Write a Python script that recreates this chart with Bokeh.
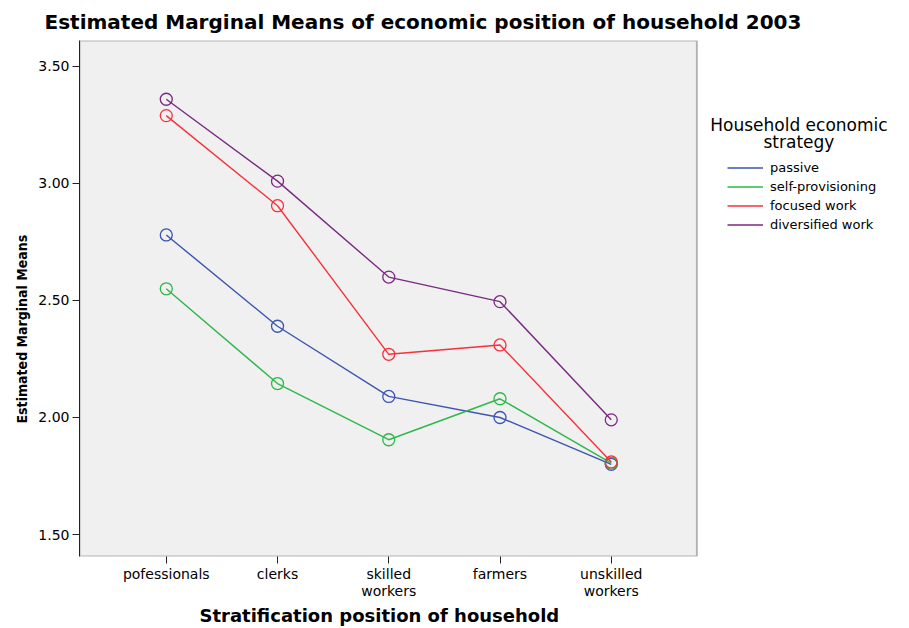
from bokeh.plotting import figure
from bokeh.models import Legend, LegendItem, FixedTicker, Range1d, Title, Label, BoxAnnotation
from bokeh.embed import file_html
from bokeh.resources import INLINE

# ---- data ----
categories = ["pofessionals", "clerks", "skilled\nworkers", "farmers", "unskilled\nworkers"]
x_pos = [1, 2, 3, 4, 5]
passive = [2.78, 2.39, 2.09, 2.00, 1.80]
self_provisioning = [2.55, 2.145, 1.905, 2.08, 1.805]
focused_work = [3.29, 2.905, 2.27, 2.31, 1.81]
diversified_work = [3.36, 3.01, 2.60, 2.495, 1.99]
series_names = ["passive", "self-provisioning", "focused work", "diversified work"]
series_values = [passive, self_provisioning, focused_work, diversified_work]
colors = ["#3b55b3", "#2db84a", "#f8303a", "#7a2a82"]
y_ticks = [1.5, 2.0, 2.5, 3.0, 3.5]
y_tick_labels = ["1.50", "2.00", "2.50", "3.00", "3.50"]
legend_title_lines = ["Household economic", "strategy"]

FONT = "DejaVu Sans"
NARROW = "DejaVu Sans Condensed"

# plotting area (grey box) and the extra room on its right for the legend
x_start, x_box_end, x_end = 0.22, 5.77, 7.609
y_start, y_end = 1.406, 3.611

p = figure(width=905, height=626, output_backend="svg", toolbar_location=None,
           x_range=Range1d(x_start, x_end), y_range=Range1d(y_start, y_end),
           min_border_left=79, min_border_right=4, min_border_top=40, min_border_bottom=70,
           background_fill_color="white", border_fill_color="white")
p.outline_line_color = None
p.xgrid.visible = False
p.ygrid.visible = False

p.add_layout(BoxAnnotation(left=x_start, right=x_box_end, bottom=y_start, top=y_end,
                           fill_color="#f0f0f0", fill_alpha=1.0,
                           line_color="#222222", line_width=2, level="underlay"))

p.title.text = "Estimated Marginal Means of economic position of household 2003"
p.title.text_font = FONT
p.title.text_font_size = "20px"
p.title.text_font_style = "bold"
p.title.align = "left"
p.title.offset = -35
p.title.standoff = 13
p.title.text_color = "black"

# axes
p.xaxis.ticker = FixedTicker(ticks=x_pos)
p.xaxis.major_label_overrides = {x: c for x, c in zip(x_pos, categories)}
p.yaxis.ticker = FixedTicker(ticks=y_ticks)
p.yaxis.major_label_overrides = {t: l for t, l in zip(y_ticks, y_tick_labels)}
for ax in (p.xaxis[0], p.yaxis[0]):
    ax.axis_line_color = "#222222"
    ax.major_tick_line_color = "#222222"
    ax.major_tick_out = 7
    ax.major_tick_in = 0
    ax.minor_tick_line_color = None
    ax.major_label_text_font = FONT
    ax.major_label_text_font_size = "14px"
    ax.major_label_text_color = "black"
p.xaxis.axis_line_color = None
p.xaxis.major_label_text_line_height = 1.1
p.yaxis.major_label_standoff = 3
p.xaxis.major_label_standoff = 2

# x axis title (centred under the grey box)
p.add_layout(Title(text="Stratification position of household", align="left", offset=120,
                   text_font=FONT, text_font_size="18px", text_font_style="bold",
                   text_color="black", standoff=1), "below")

# y axis title
p.add_layout(Title(text="Estimated Marginal Means", align="left", offset=133,
                   text_font=NARROW, text_font_size="14px", text_font_style="bold",
                   text_color="black", standoff=11), "left")

items = []
for name, vals, col in zip(series_names, series_values, colors):
    r = p.line(x_pos, vals, line_color=col, line_width=1.4)
    p.scatter(x_pos, vals, marker="circle", size=12, fill_color=None,
              line_color=col, line_width=1.3)
    items.append(LegendItem(label=name, renderers=[r]))

legend = Legend(items=items, location=(648, 322), padding=0, margin=0,
                glyph_width=36, glyph_height=19, label_height=19, spacing=0,
                label_standoff=7, label_text_font=FONT, label_text_font_size="13px",
                label_text_color="black",
                background_fill_alpha=0, border_line_color=None)
p.add_layout(legend, "center")

# legend title, two centred lines
for txt, yy in zip(legend_title_lines, [3.252, 3.179]):
    p.add_layout(Label(x=6.687, y=yy, text=txt, text_align="center",
                       text_baseline="middle", text_font=FONT, text_font_size="17px",
                       text_color="black"))

open("out.html", "w").write(file_html(p, INLINE))
